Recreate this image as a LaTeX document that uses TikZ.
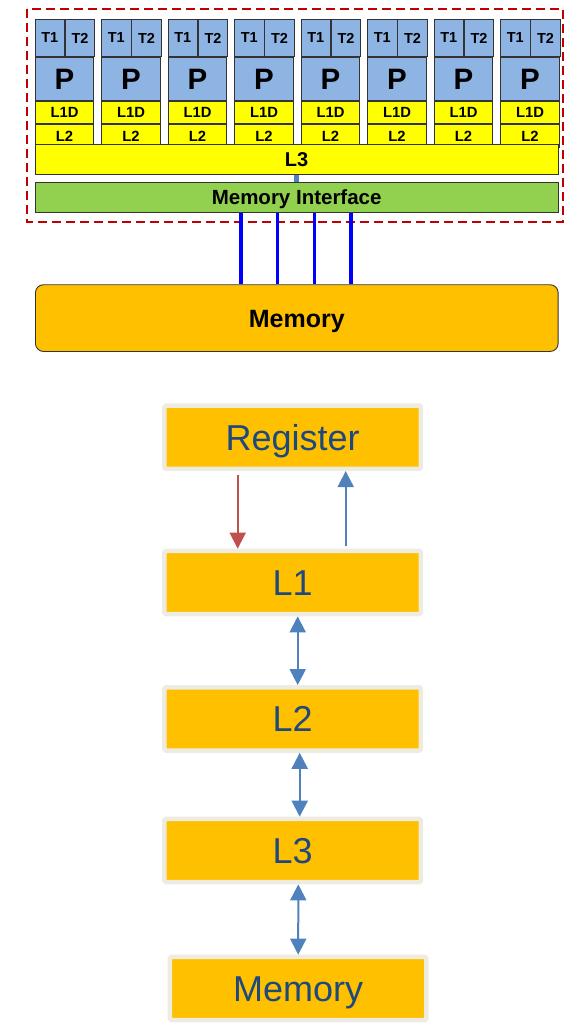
\documentclass[tikz,border=0pt]{standalone}
\usepackage{fontspec}
\setmainfont{Liberation Sans}
\usetikzlibrary{arrows.meta,positioning,calc}

\definecolor{coreblue}{HTML}{8EB4E3}
\definecolor{cacheyellow}{HTML}{FFFF00}
\definecolor{mifgreen}{HTML}{92D050}
\definecolor{memorange}{HTML}{FFC000}
\definecolor{chipred}{HTML}{C00000}
\definecolor{busblue}{HTML}{0000FF}
\definecolor{linkblue}{HTML}{4F81BD}
\definecolor{linkred}{HTML}{C0504D}
\definecolor{levelframe}{HTML}{EEECE1}
\definecolor{leveltext}{HTML}{1F497D}

\newcommand{\fsz}[1]{\fontsize{#1}{#1}\selectfont}

\begin{document}
\begin{tikzpicture}[
  x=1pt, y=-1pt,
  capcentre/.style={text height=#1, text depth=0pt},
  cell/.style={rectangle, draw=black!80, line width=0.9pt, inner sep=0pt,
    anchor=north west, font=\bfseries\fsz{14.8}},
  thread/.style={cell, fill=coreblue, minimum width=29.35pt, minimum height=37pt, font=\bfseries\fsz{14.5}},
  proc/.style={cell, fill=coreblue, minimum width=58.7pt, minimum height=43.3pt, font=\bfseries\fsz{29.5}},
  cache/.style={cell, fill=cacheyellow, minimum width=58.7pt, minimum height=22.35pt},
  level/.style={rectangle, fill=memorange, draw=levelframe, line width=4.5pt,
    rounded corners=1.5pt, minimum width=256.5pt, minimum height=63.2pt,
    inner sep=0pt, text=leveltext, font=\fsz{36}, capcentre=25.8pt},
  bus/.style={draw=busblue, line width=3.5pt},
  tip/.style={-{Triangle[length=16pt,width=16pt]}},
  bitip/.style={{Triangle[length=16pt,width=16pt]}-{Triangle[length=16pt,width=16pt]}}
]
\useasboundingbox (0,0) rectangle (565,1024);

% chip frame
\draw[chipred, line width=2.3pt, dash pattern=on 9pt off 5pt] (27,9) rectangle (563,222);

% cores
\foreach \i in {0,...,7} {
  \pgfmathsetmacro{\cx}{34.7+66.5*\i}
  \node[thread] (t1-\i) at (\cx,19) {T1};
  \node[thread, anchor=north west] (t2-\i) at (t1-\i.north east) {T2};
  \node[proc] (p-\i) at (t1-\i.south west) {P};
  \node[cache] (lid-\i) at (p-\i.south west) {L1D};
  \node[cache] (ltwo-\i) at (lid-\i.south west) {L2};
}

\node[cell, fill=cacheyellow, minimum width=523pt, minimum height=30pt,
  font=\bfseries\fsz{20}] (l3) at (34.7,144) {L3};
\node[cell, fill=mifgreen, minimum width=523pt, minimum height=30pt,
  font=\bfseries\fsz{20.5}, capcentre=14.7pt] (mif) at (34.7,181.7) {Memory Interface};
\node[rectangle, draw=black!80, line width=0.9pt, fill=memorange, rounded corners=8pt,
  minimum width=522.7pt, minimum height=66.7pt, inner sep=0pt, anchor=north west,
  font=\bfseries\fsz{25}, capcentre=17.9pt] (mem) at (35,284.3) {Memory};

\draw[linkblue, line width=5pt] (l3.south -| 296,0) -- (mif.north -| 296,0);
\foreach \bx in {241,277.7,314.3,351}
  \draw[bus] (mif.south -| \bx,0) -- (mem.north -| \bx,0);

% memory hierarchy
\node[level] (reg) at (292.7,437.2) {Register};
\node[level] (lone) at (292.7,582.5) {L1};
\node[level] (ltwo) at (292.7,718.9) {L2};
\node[level] (lthree) at (292.7,850.5) {L3};
\node[level] (mainmem) at (298.2,988.5) {Memory};

\draw[tip, linkred, line width=2pt, shorten <=4pt] ([xshift=-55pt]reg.south) -- ([xshift=-55pt]lone.north);
\draw[tip, linkblue, line width=2pt, shorten <=3pt] ([xshift=53pt]lone.north) -- ([xshift=53pt]reg.south);
\draw[bitip, linkblue, line width=2pt] ([xshift=5pt]lone.south) -- ([xshift=5pt]ltwo.north);
\draw[bitip, linkblue, line width=2pt] ([xshift=7pt]ltwo.south) -- ([xshift=7pt]lthree.north);
\draw[bitip, linkblue, line width=2pt] ([xshift=5.6pt]lthree.south) -- (mainmem.north);
\end{tikzpicture}
\end{document}
